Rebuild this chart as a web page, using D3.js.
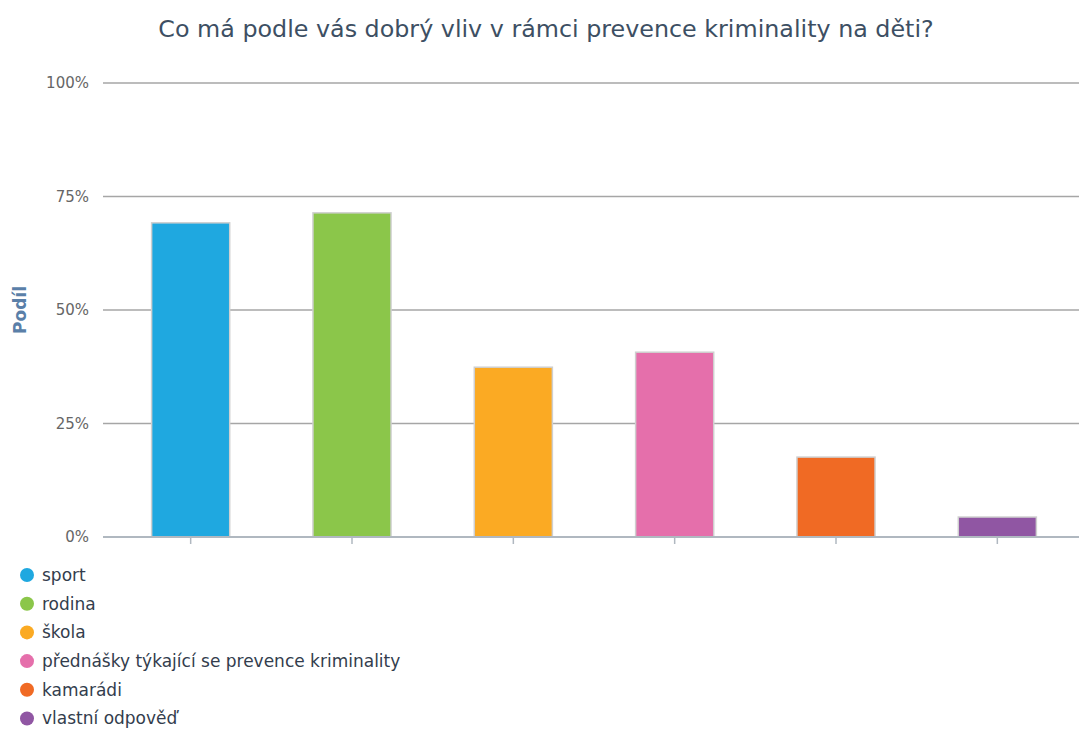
<!DOCTYPE html>
<html>
<head>
<meta charset="utf-8">
<script src="https://cdn.jsdelivr.net/npm/d3@7"></script>
<style>
  body { margin: 0; background: #fff; }
  svg { display: block; font-family: "DejaVu Sans", sans-serif; }
</style>
</head>
<body>
<div id="chart"></div>
<script>
var categories = ["sport", "rodina", "škola", "přednášky týkající se prevence kriminality", "kamarádi", "vlastní odpověď"];
var values = [69.2, 71.4, 37.4, 40.7, 17.6, 4.4];
var colors = ["#1fa8e0", "#8bc64a", "#fbaa23", "#e56fab", "#f06a24", "#9056a3"];
var yTicks = [0, 25, 50, 75, 100];

var width = 1079, height = 729,
    gridLeft = 103, plotLeft = 110, plotRight = 1078,
    plotTop = 83, plotBottom = 537;

var svg = d3.select("#chart").append("svg")
  .attr("width", width)
  .attr("height", height);

var x = d3.scaleBand().domain(categories).range([plotLeft, plotRight]).paddingInner(0.516).paddingOuter(0.258);
var y = d3.scaleLinear().domain([0, 100]).range([plotBottom, plotTop]);

// title
svg.append("text")
  .attr("x", 546).attr("y", 37)
  .attr("text-anchor", "middle")
  .attr("fill", "#3d4f63")
  .style("font-size", "23.8px")
  .text("Co má podle vás dobrý vliv v rámci prevence kriminality na děti?");

// grid + y labels
svg.append("g").selectAll("line").data(yTicks.filter(function(d){ return d > 0; })).enter().append("line")
  .attr("x1", gridLeft).attr("x2", width)
  .attr("y1", function(d){ return y(d); }).attr("y2", function(d){ return y(d); })
  .attr("stroke", "#a6a6a6").attr("stroke-width", 1.5);

svg.append("g").selectAll("text").data(yTicks).enter().append("text")
  .attr("x", 89).attr("y", function(d){ return y(d); })
  .attr("dy", "0.35em")
  .attr("text-anchor", "end")
  .attr("fill", "#666")
  .style("font-size", "15px")
  .text(function(d){ return d + "%"; });

svg.append("text")
  .attr("transform", "translate(26," + y(50) + ") rotate(-90)")
  .attr("text-anchor", "middle")
  .attr("fill", "#5a7fa8")
  .style("font-size", "17px")
  .style("font-weight", "bold")
  .text("Podíl");

// bars
svg.selectAll(".bar").data(categories).enter().append("rect")
  .attr("class", "bar")
  .attr("x", function(d){ return x(d); })
  .attr("width", x.bandwidth())
  .attr("y", function(d, i){ return y(values[i]); })
  .attr("height", function(d, i){ return y(0) - y(values[i]); })
  .attr("fill", function(d, i){ return colors[i]; })
  .attr("stroke", "#cfcfcf")
  .attr("stroke-width", 1.5);

// x axis line + ticks
svg.append("line")
  .attr("x1", gridLeft).attr("x2", width)
  .attr("y1", plotBottom).attr("y2", plotBottom)
  .attr("stroke", "#b0b8c0").attr("stroke-width", 2);

svg.append("g").selectAll("line").data(categories).enter().append("line")
  .attr("x1", function(d){ return x(d) + x.bandwidth() / 2; })
  .attr("x2", function(d){ return x(d) + x.bandwidth() / 2; })
  .attr("y1", plotBottom).attr("y2", plotBottom + 7)
  .attr("stroke", "#b0b8c0").attr("stroke-width", 1.5);

// legend
var legend = svg.append("g").selectAll("g").data(categories).enter().append("g")
  .attr("transform", function(d, i){ return "translate(27," + (575 + i * 28.7) + ")"; });

legend.append("circle")
  .attr("r", 7)
  .attr("fill", function(d, i){ return colors[i]; });

legend.append("text")
  .attr("x", 15)
  .attr("dy", "0.35em")
  .attr("fill", "#333d4d")
  .style("font-size", "17px")
  .text(function(d){ return d; });
</script>
</body>
</html>
